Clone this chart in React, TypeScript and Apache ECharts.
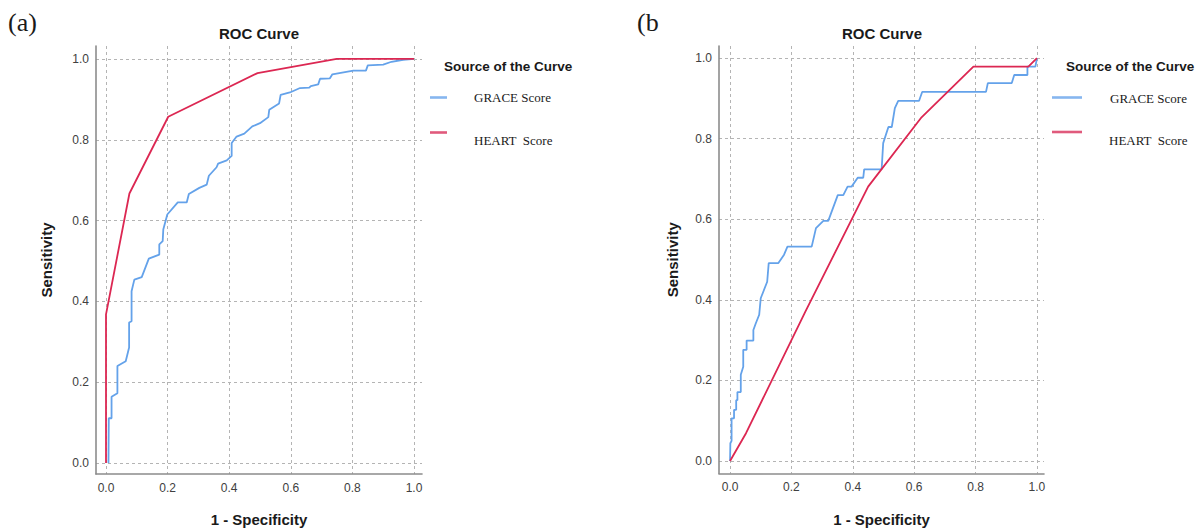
import React, { useEffect, useRef } from "react";
import * as echarts from "echarts";

const tickValues = [0, 0.2, 0.4, 0.6, 0.8, 1.0];
const seriesNames = ["GRACE Score", "HEART Score"];
const panelLabels = ["(a)", "(b"];
const chartTitle = "ROC Curve";
const legendTitle = "Source of the Curve";
const legendLabels = ["GRACE Score", "HEART  Score"];
const xName = "1 - Specificity";
const yName = "Sensitivity";

const graceA: [number, number][] = [
  [0.008, 0], [0.009, 0.111], [0.018, 0.111], [0.018, 0.164], [0.037, 0.173], [0.037, 0.24],
  [0.064, 0.252], [0.075, 0.286], [0.075, 0.348], [0.083, 0.351], [0.083, 0.425], [0.092, 0.454],
  [0.116, 0.46], [0.139, 0.506], [0.173, 0.516], [0.173, 0.541], [0.184, 0.549], [0.186, 0.578],
  [0.199, 0.615], [0.233, 0.645], [0.262, 0.645], [0.269, 0.666], [0.303, 0.681], [0.327, 0.689],
  [0.334, 0.711], [0.359, 0.732], [0.364, 0.741], [0.392, 0.749], [0.408, 0.76], [0.408, 0.792],
  [0.424, 0.808], [0.449, 0.815], [0.475, 0.833], [0.5, 0.841], [0.527, 0.856], [0.53, 0.874],
  [0.562, 0.89], [0.567, 0.911], [0.597, 0.917], [0.63, 0.928], [0.66, 0.929], [0.665, 0.933],
  [0.689, 0.937], [0.695, 0.951], [0.727, 0.952], [0.735, 0.962], [0.803, 0.971], [0.844, 0.971],
  [0.85, 0.984], [0.9, 0.986], [0.927, 0.993], [0.965, 0.998], [1, 1],
];

const heartA: [number, number][] = [
  [0, 0], [0, 0.368], [0.076, 0.667], [0.202, 0.857], [0.492, 0.965], [0.749, 1], [1, 1],
];

const graceB: [number, number][] = [
  [0, 0], [0.001, 0.044], [0.005, 0.05], [0.005, 0.106], [0.013, 0.106], [0.013, 0.127],
  [0.02, 0.127], [0.02, 0.151], [0.024, 0.151], [0.024, 0.171], [0.035, 0.171], [0.035, 0.214],
  [0.043, 0.234], [0.043, 0.276], [0.054, 0.276], [0.054, 0.299], [0.076, 0.299], [0.076, 0.325],
  [0.084, 0.342], [0.095, 0.363], [0.1, 0.404], [0.121, 0.445], [0.126, 0.491], [0.157, 0.491],
  [0.176, 0.512], [0.187, 0.532], [0.266, 0.532], [0.28, 0.578], [0.304, 0.596], [0.32, 0.596],
  [0.351, 0.66], [0.369, 0.66], [0.383, 0.681], [0.396, 0.681], [0.416, 0.703], [0.434, 0.703],
  [0.437, 0.724], [0.494, 0.724], [0.499, 0.789], [0.516, 0.829], [0.527, 0.829], [0.537, 0.876],
  [0.548, 0.894], [0.616, 0.894], [0.626, 0.916], [0.834, 0.916], [0.84, 0.938], [0.918, 0.938],
  [0.926, 0.958], [0.969, 0.958], [0.969, 0.979], [0.995, 0.979], [1, 1],
];

const heartB: [number, number][] = [
  [0, 0], [0.052, 0.069], [0.245, 0.37], [0.45, 0.681], [0.624, 0.853], [0.793, 0.979],
  [0.972, 0.979], [1, 1],
];

const BLUE = "#64a2ea";
const RED = "#dc2752";
const BLUE_LEG = "#86b6ef";
const RED_LEG = "#e05a7c";
const SANS = "'Liberation Sans', Arial, sans-serif";
const SERIF = "'Liberation Serif', 'Times New Roman', serif";

function xAxisOpt(gridIndex: number, min: number, max: number, margin: number) {
  return {
    type: "value",
    gridIndex,
    min,
    max,
    name: xName,
    nameLocation: "middle",
    nameGap: 38,
    nameTextStyle: { fontFamily: SANS, fontWeight: "bold", fontSize: 15, color: "#1a1a1a" },
    axisLine: { show: true, onZero: false, lineStyle: { color: "#8c8c8c", width: 1.6 } },
    axisTick: { show: false, customValues: tickValues },
    axisLabel: {
      customValues: tickValues,
      margin,
      fontFamily: SANS,
      fontSize: 12,
      color: "#404040",
      formatter: (v: number) => v.toFixed(1),
    },
    splitLine: { show: true, lineStyle: { color: "#b4b4b4", type: [3, 3], width: 1 } },
  };
}

function yAxisOpt(gridIndex: number, min: number, max: number, nameGap: number) {
  return {
    type: "value",
    gridIndex,
    min,
    max,
    name: yName,
    nameLocation: "middle",
    nameGap,
    nameTextStyle: { fontFamily: SANS, fontWeight: "bold", fontSize: 15, color: "#1a1a1a" },
    axisLine: { show: true, onZero: false, lineStyle: { color: "#8c8c8c", width: 1.6 } },
    axisTick: { show: false, customValues: tickValues },
    axisLabel: {
      customValues: tickValues,
      margin: 7,
      fontFamily: SANS,
      fontSize: 12,
      color: "#404040",
      formatter: (v: number) => v.toFixed(1),
    },
    splitLine: { show: true, lineStyle: { color: "#b4b4b4", type: [3, 3], width: 1 } },
  };
}

function lineSeries(name: string, data: [number, number][], idx: number, color: string) {
  return {
    type: "line",
    name,
    xAxisIndex: idx,
    yAxisIndex: idx,
    data,
    showSymbol: false,
    symbol: "none",
    lineStyle: { color, width: 1.8 },
    itemStyle: { color },
    z: name === seriesNames[1] ? 3 : 2,
  };
}

function txt(text: string, x: number, y: number, font: string, align: string) {
  return {
    type: "text",
    x,
    y,
    silent: true,
    style: {
      text,
      font,
      fill: "#1a1a1a",
      align,
      verticalAlign: "middle",
      textAlign: align,
      textVerticalAlign: "middle",
    },
  };
}

function seg(x1: number, x2: number, y: number, color: string) {
  return {
    type: "line",
    silent: true,
    shape: { x1, y1: y, x2, y2: y },
    style: { stroke: color, lineWidth: 2.6 },
  };
}

export default function App() {
  const ref = useRef<HTMLDivElement>(null);
  useEffect(() => {
    if (!ref.current) return;
    const chart = echarts.init(ref.current, null, { renderer: "svg" });
    chart.setOption({
      animation: false,
      backgroundColor: "#ffffff",
      grid: [
        { left: 96, top: 46, width: 326, height: 429, containLabel: false },
        { left: 719, top: 46, width: 325, height: 427.5, containLabel: false },
      ],
      xAxis: [xAxisOpt(0, -0.0325, 1.026, 8), xAxisOpt(1, -0.036, 1.023, 7)],
      yAxis: [yAxisOpt(0, -0.027, 1.032, 42), yAxisOpt(1, -0.031, 1.03, 39)],
      series: [
        lineSeries(seriesNames[0], graceA, 0, BLUE),
        lineSeries(seriesNames[1], heartA, 0, RED),
        lineSeries(seriesNames[0], graceB, 1, BLUE),
        lineSeries(seriesNames[1], heartB, 1, RED),
      ],
      graphic: [
        txt(panelLabels[0], 8, 22, `26px ${SERIF}`, "left"),
        txt(panelLabels[1], 637, 22, `26px ${SERIF}`, "left"),
        txt(chartTitle, 259, 33.5, `bold 15px ${SANS}`, "center"),
        txt(chartTitle, 882, 33.5, `bold 15px ${SANS}`, "center"),
        txt(legendTitle, 444, 66, `bold 13.5px ${SANS}`, "left"),
        txt(legendTitle, 1066, 66, `bold 13.5px ${SANS}`, "left"),
        seg(430, 447, 97.5, BLUE_LEG),
        seg(430, 447, 132.5, RED_LEG),
        txt(legendLabels[0], 474, 97, `13px ${SERIF}`, "left"),
        txt(legendLabels[1], 474, 140.5, `13px ${SERIF}`, "left"),
        seg(1052, 1082, 97.5, BLUE_LEG),
        seg(1052, 1082, 132, RED_LEG),
        txt(legendLabels[0], 1110, 98, `13px ${SERIF}`, "left"),
        txt(legendLabels[1], 1109, 140.5, `13px ${SERIF}`, "left"),
      ],
    });
    return () => chart.dispose();
  }, []);
  return (
    <div
      ref={ref}
      style={{ position: "absolute", left: 0, top: 0, width: 1201, height: 532 }}
    />
  );
}
